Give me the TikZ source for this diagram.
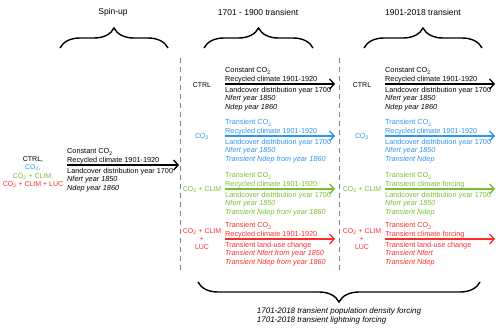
\documentclass[tikz,border=0pt]{standalone}
\usepackage{fontspec}
\setmainfont{Liberation Sans}
\usepackage{xcolor}
\usetikzlibrary{arrows.meta, decorations.pathreplacing}
\definecolor{co2blue}{RGB}{45,150,240}
\definecolor{climgreen}{RGB}{120,190,50}
\definecolor{lucred}{RGB}{250,45,45}

\begin{document}
\begin{tikzpicture}[x=1pt, y=-1pt, >={Straight Barb[length=4.5pt, width=10pt]},
    txt/.style={font=\fontsize{7.3}{8.4}\selectfont, align=left, inner sep=0pt},
    lbl/.style={font=\fontsize{7}{8.3}\selectfont, align=center, inner sep=0pt},
    title/.style={font=\fontsize{8.5}{10}\selectfont, inner sep=0pt},
    above line/.style={txt, anchor=south west, yshift=1pt},
    below line/.style={txt, anchor=north west, yshift=-3pt},
    flow/.style={->, line width=1.3pt},
    sep/.style={gray, dash pattern=on 5pt off 4pt, line width=0.8pt},
    bigbrace/.style={decorate, decoration={brace, amplitude=20pt, aspect=0.5}, line width=1.4pt}]
    \useasboundingbox (0,0) rectangle (500,329);

    % phases
    \node[title] (spinup) at (113,12) {Spin-up};
    \node[title] (trans1) at (258,12) {1701 - 1900 transient};
    \node[title] (trans2) at (423,12) {1901-2018 transient};
    \draw[bigbrace] (60,48) -- (168,48);
    \draw[bigbrace] (204,48) -- (313,48);
    \draw[bigbrace] (364,48) -- (482,48);
    \draw[sep] (180,58) -- (180,273);
    \draw[sep] (339,58) -- (339,273);

    % spin-up
    \node[lbl] (runs) at (33,172) {CTRL,\\\textcolor{co2blue}{CO\textsubscript{2},}\\\textcolor{climgreen}{CO\textsubscript{2} + CLIM,}\\\textcolor{lucred}{CO\textsubscript{2} + CLIM + LUC}};
    \coordinate (s0) at (67,165);
    \coordinate (s1) at (179,165);
    \node[above line] (s0up) at (s0) {Constant CO\textsubscript{2}\\Recycled climate 1901-1920};
    \node[below line] (s0dn) at (s0) {Landcover distribution year 1700\\\textit{Nfert year 1850}\\\textit{Ndep year 1860}};
    \draw[flow] (s0) -- (s1);

    % 1701-1900
    \node[lbl] (ctrlA) at (202,85) {CTRL};
    \coordinate (a0) at (225,84);
    \coordinate (a1) at (335,84);
    \node[above line] (a0up) at (a0) {Constant CO\textsubscript{2}\\Recycled climate 1901-1920};
    \node[below line] (a0dn) at (a0) {Landcover distribution year 1700\\\textit{Nfert year 1850}\\\textit{Ndep year 1860}};
    \draw[flow] (a0) -- (a1);

    \begin{scope}[co2blue]
    \node[lbl, text=co2blue] (co2A) at (202,137) {CO\textsubscript{2}};
    \coordinate (b0) at (225,136);
    \coordinate (b1) at (335,136);
    \node[above line, text=co2blue] (b0up) at (b0) {Transient CO\textsubscript{2}\\Recycled climate 1901-1920};
    \node[below line, text=co2blue] (b0dn) at (b0) {Landcover distribution year 1700\\\textit{Nfert year 1850}\\\textit{Transient Ndep from year 1860}};
    \draw[flow] (b0) -- (b1);
    \end{scope}

    \begin{scope}[climgreen]
    \node[lbl, text=climgreen] (climA) at (202,190) {CO\textsubscript{2} + CLIM};
    \coordinate (c0) at (225,189);
    \coordinate (c1) at (335,189);
    \node[above line, text=climgreen] (c0up) at (c0) {Transient CO\textsubscript{2}\\Recycled climate 1901-1920};
    \node[below line, text=climgreen] (c0dn) at (c0) {Landcover distribution year 1700\\\textit{Nfert year 1850}\\\textit{Transient Ndep from year 1860}};
    \draw[flow] (c0) -- (c1);
    \end{scope}

    \begin{scope}[lucred]
    \node[lbl, text=lucred] (lucA) at (202,239) {CO\textsubscript{2} + CLIM\\+\\LUC};
    \coordinate (d0) at (225,239);
    \coordinate (d1) at (335,239);
    \node[above line, text=lucred] (d0up) at (d0) {Transient CO\textsubscript{2}\\Recycled climate 1901-1920};
    \node[below line, text=lucred] (d0dn) at (d0) {Transient land-use change\\\textit{Transient Nfert from year 1850}\\\textit{Transient Ndep from year 1860}};
    \draw[flow] (d0) -- (d1);
    \end{scope}

    % 1901-2018
    \node[lbl] (ctrlB) at (362,85) {CTRL};
    \coordinate (e0) at (385,84);
    \coordinate (e1) at (495,84);
    \node[above line] (e0up) at (e0) {Constant CO\textsubscript{2}\\Recycled climate 1901-1920};
    \node[below line] (e0dn) at (e0) {Landcover distribution year 1700\\\textit{Nfert year 1850}\\\textit{Ndep year 1860}};
    \draw[flow] (e0) -- (e1);

    \begin{scope}[co2blue]
    \node[lbl, text=co2blue] (co2B) at (362,137) {CO\textsubscript{2}};
    \coordinate (f0) at (385,136);
    \coordinate (f1) at (495,136);
    \node[above line, text=co2blue] (f0up) at (f0) {Transient CO\textsubscript{2}\\Recycled climate 1901-1920};
    \node[below line, text=co2blue] (f0dn) at (f0) {Landcover distribution year 1700\\\textit{Nfert year 1850}\\\textit{Transient Ndep}};
    \draw[flow] (f0) -- (f1);
    \end{scope}

    \begin{scope}[climgreen]
    \node[lbl, text=climgreen] (climB) at (362,190) {CO\textsubscript{2} + CLIM};
    \coordinate (g0) at (385,189);
    \coordinate (g1) at (495,189);
    \node[above line, text=climgreen] (g0up) at (g0) {Transient CO\textsubscript{2}\\Transient climate forcing};
    \node[below line, text=climgreen] (g0dn) at (g0) {Landcover distribution year 1700\\\textit{Nfert year 1850}\\\textit{Transient Ndep}};
    \draw[flow] (g0) -- (g1);
    \end{scope}

    \begin{scope}[lucred]
    \node[lbl, text=lucred] (lucB) at (362,239) {CO\textsubscript{2} + CLIM\\+\\LUC};
    \coordinate (h0) at (385,239);
    \coordinate (h1) at (495,239);
    \node[above line, text=lucred] (h0up) at (h0) {Transient CO\textsubscript{2}\\Transient climate forcing};
    \node[below line, text=lucred] (h0dn) at (h0) {Transient land-use change\\\textit{Transient Nfert}\\\textit{Transient Ndep}};
    \draw[flow] (h0) -- (h1);
    \end{scope}

    % whole period
    \draw[bigbrace] (480,282) -- (198,282);
    \node[txt, font=\fontsize{8}{9.3}\selectfont] (forcing) at (339,316) {\textit{1701-2018 transient population density forcing}\\\textit{1701-2018 transient lightning forcing}};
\end{tikzpicture}
\end{document}
